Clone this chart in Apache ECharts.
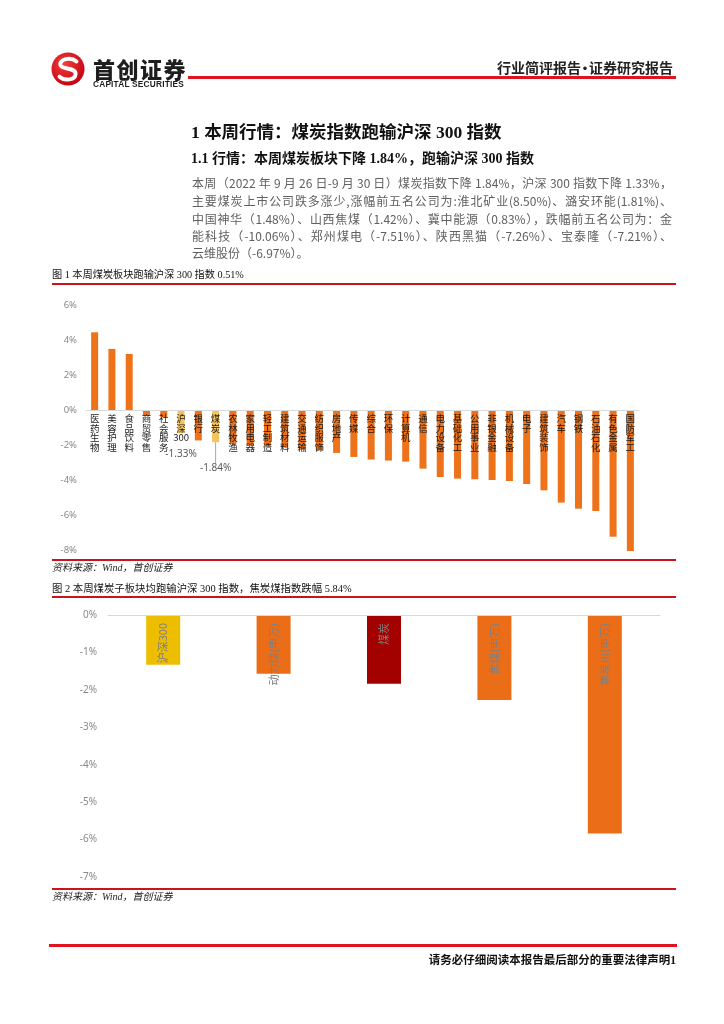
<!DOCTYPE html>
<html><head><meta charset="utf-8">
<script src="https://cdn.jsdelivr.net/npm/echarts@6/dist/echarts.min.js"></script>
<style>
html,body{margin:0;padding:0;background:#fff;}
#page{position:relative;width:724px;height:1024px;overflow:hidden;font-family:"Noto Sans CJK SC",sans-serif;}
#chart{position:absolute;left:0;top:0;width:724px;height:1024px;}
.t{position:absolute;white-space:nowrap;z-index:2;}
.rl{position:absolute;z-index:2;}
.p{position:absolute;left:192px;width:480px;font-size:12px;line-height:17px;color:#606060;white-space:nowrap;text-align:justify;text-align-last:justify;z-index:2;}
.ser{font-family:"Liberation Serif","Noto Sans CJK SC",serif;}
</style></head>
<body><div id="page">
<div id="chart"></div>
<svg style="position:absolute;left:51px;top:52px;z-index:2" width="34" height="34" viewBox="0 0 36 36">
<defs><radialGradient id="g" cx="40%" cy="35%" r="70%"><stop offset="0" stop-color="#f0403c"/><stop offset="1" stop-color="#c4000e"/></radialGradient></defs>
<circle cx="18" cy="18" r="17.5" fill="url(#g)"/>
<path d="M27 10 C21 5 9 7 10 14 C11 19 26 16 26 23 C26 30 14 31 9 26" fill="none" stroke="#fff" stroke-width="4.2" stroke-linecap="round"/>
</svg>
<div class="t" style="left:93px;top:55px;font-size:22px;line-height:26px;font-weight:900;color:#1e1e1e;letter-spacing:1.5px;">首创证券</div>
<div class="t" style="left:93px;top:79px;font-size:8.3px;line-height:10px;font-weight:bold;color:#1e1e1e;letter-spacing:0.2px;font-family:'Liberation Sans',Arial,sans-serif;">CAPITAL SECURITIES</div>
<div class="rl" style="left:188px;top:76px;width:488px;height:2.5px;background:#e0141e;"></div>
<div class="t" style="right:51px;top:58px;font-size:14px;line-height:18px;font-weight:bold;color:#222;">行业简评报告<span style="margin:0 -3px">·</span>证券研究报告</div>

<div class="t ser" style="left:191px;top:120px;font-size:17.5px;line-height:24px;font-weight:bold;color:#111;">1 本周行情：煤炭指数跑输沪深 300 指数</div>
<div class="t ser" style="left:191px;top:149px;font-size:14px;line-height:20px;font-weight:bold;color:#111;">1.1 行情：本周煤炭板块下降 1.84%，跑输沪深 300 指数</div>

<div class="p" style="top:174px;">本周（2022 年 9 月 26 日-9 月 30 日）煤炭指数下降 1.84%，沪深 300 指数下降 1.33%，</div>
<div class="p" style="top:192px;">主要煤炭上市公司跌多涨少,涨幅前五名公司为:淮北矿业(8.50%)、潞安环能(1.81%)、</div>
<div class="p" style="top:210px;">中国神华（1.48%）、山西焦煤（1.42%）、冀中能源（0.83%），跌幅前五名公司为：金</div>
<div class="p" style="top:227px;">能科技（-10.06%）、郑州煤电（-7.51%）、陕西黑猫（-7.26%）、宝泰隆（-7.21%）、</div>
<div class="p" style="top:244px;text-align-last:left;">云维股份（-6.97%）。</div>

<div class="t ser" style="left:52px;top:268px;font-size:10.2px;line-height:14px;color:#111;">图 1 本周煤炭板块跑输沪深 300 指数 0.51%</div>
<div class="rl" style="left:52px;top:283px;width:624px;height:1.5px;background:#c8141c;"></div>
<div class="rl" style="left:52px;top:559px;width:624px;height:1.5px;background:#c8141c;"></div>
<div class="t ser" style="left:52px;top:561px;font-size:10px;line-height:14px;color:#222;font-style:italic;">资料来源：Wind，首创证券</div>

<div class="t ser" style="left:52px;top:582px;font-size:10.4px;line-height:14px;color:#111;">图 2 本周煤炭子板块均跑输沪深 300 指数，焦炭煤指数跌幅 5.84%</div>
<div class="rl" style="left:52px;top:596px;width:624px;height:1.5px;background:#c8141c;"></div>
<div class="rl" style="left:52px;top:888px;width:624px;height:1.5px;background:#c8141c;"></div>
<div class="t ser" style="left:52px;top:890px;font-size:10px;line-height:14px;color:#222;font-style:italic;">资料来源：Wind，首创证券</div>

<div class="rl" style="left:49px;top:944px;width:628px;height:3px;background:#e0141e;"></div>
<div class="t ser" style="right:48px;top:953px;font-size:11.5px;line-height:15px;font-weight:bold;color:#111;">请务必仔细阅读本报告最后部分的重要法律声明1</div>
</div>
<script>
// ---- Chart 1 data: industry weekly change (%) ----
const industries = ['医药生物','美容护理','食品饮料','商贸零售','社会服务','沪深300','银行','煤炭','农林牧渔','家用电器','轻工制造','建筑材料','交通运输','纺织服饰','房地产','传媒','综合','环保','计算机','通信','电力设备','基础化工','公用事业','非银金融','机械设备','电子','建筑装饰','汽车','钢铁','石油石化','有色金属','国防军工'];
const industryChange = [4.44, 3.49, 3.20, -0.32, -0.42, -1.33, -1.74, -1.84, -1.95, -2.02, -2.08, -2.15, -2.22, -2.30, -2.45, -2.68, -2.83, -2.89, -2.95, -3.35, -3.83, -3.92, -3.96, -4.00, -4.06, -4.23, -4.59, -5.29, -5.64, -5.77, -7.24, -8.06];
const highlighted = ['沪深300','煤炭'];
const yTicks1 = {min: -8, max: 6, interval: 2};

// ---- Chart 2 data: coal sub-sectors weekly change (%) ----
const subSectors = ['沪深300','动力煤(申万)','煤炭','焦煤(申万)','焦炭Ⅲ(申万)'];
const subChange = [-1.33, -1.57, -1.84, -2.27, -5.84];
const yTicks2 = {min: -7, max: 0, interval: 1};

// styles
const ORANGE = '#EE7219', LIGHT = '#F5C35B';
const palette2 = ['#EDBD00', '#EC6D18', '#A30000', '#EC6D18', '#EC6D18'];

const grid1 = {left: 86, right: 85, top: 305, bottom: 474};
const grid2 = {left: 108, right: 64, top: 615, bottom: 147};
const H = 1024;
// distance from grid bottom to the zero line (so the category axis sits on 0)
function zeroOffset(g, t) {
  const h = H - g.top - g.bottom;
  return (0 - t.min) / (t.max - t.min) * h;
}

const chart = echarts.init(document.getElementById('chart'), null, {renderer: 'canvas'});

// vertical (stacked) category labels; digit runs stay together
const stacked = name => name.match(/[0-9]+|./g).join('\n');
const fmtPct = p => p.value.toFixed(2) + '%';

chart.setOption({
  animation: false,
  grid: [grid1, grid2],
  xAxis: [
    {
      gridIndex: 0, type: 'category', data: industries, z: 5,
      offset: -zeroOffset(grid1, yTicks1),
      axisLine: {onZero: false, lineStyle: {color: '#d9d9d9', width: 1}},
      axisTick: {show: false},
      axisLabel: {
        interval: 0, margin: 4, formatter: stacked, color: '#1a1a1a',
        fontSize: 9.5, lineHeight: 9.5, fontFamily: 'Noto Sans CJK SC',
        align: 'center', verticalAlign: 'top', hideOverlap: false
      }
    },
    {
      gridIndex: 1, type: 'category', data: subSectors, z: 5,
      offset: -zeroOffset(grid2, yTicks2),
      axisLine: {onZero: false, lineStyle: {color: '#d9d9d9', width: 1}},
      axisTick: {show: false},
      axisLabel: {interval: 0, rotate: 90, margin: 8, fontSize: 11, color: '#7f7f7f', fontFamily: 'Noto Sans CJK SC'}
    }
  ],
  yAxis: [
    {
      gridIndex: 0, type: 'value', min: yTicks1.min, max: yTicks1.max, interval: yTicks1.interval,
      splitLine: {show: false}, axisLine: {show: false}, axisTick: {show: false},
      axisLabel: {formatter: '{value}%', margin: 9, fontSize: 9.5, color: '#8a8a8a', fontFamily: 'Noto Sans'}
    },
    {
      gridIndex: 1, type: 'value', min: yTicks2.min, max: yTicks2.max, interval: yTicks2.interval,
      splitLine: {show: false}, axisLine: {show: false}, axisTick: {show: false},
      axisLabel: {formatter: '{value}%', margin: 11, fontSize: 10, color: '#8a8a8a', fontFamily: 'Noto Sans'}
    }
  ],
  series: [
    {
      type: 'bar', xAxisIndex: 0, yAxisIndex: 0, barWidth: 7, clip: false,
      data: industryChange.map((v, i) => {
        const name = industries[i];
        const hi = highlighted.includes(name);
        const item = {value: v, itemStyle: {color: hi ? LIGHT : ORANGE}};
        if (name === '沪深300') item.label = {show: true, distance: 16};
        if (name === '煤炭') {
          item.label = {show: true, distance: 3};
          item.labelLine = {show: true, lineStyle: {color: '#a6a6a6', width: 1}};
        }
        return item;
      }),
      label: {show: false, position: 'bottom', formatter: fmtPct, fontSize: 10, color: '#595959', fontFamily: 'Noto Sans'},
      labelLayout: p => industries[p.dataIndex] === '煤炭' ? {dy: 18} : {}
    },
    {
      type: 'bar', xAxisIndex: 1, yAxisIndex: 1, barWidth: 34, clip: false,
      data: subChange.map((v, i) => ({value: v, itemStyle: {color: palette2[i]}}))
    }
  ]
});
</script>
</body></html>
